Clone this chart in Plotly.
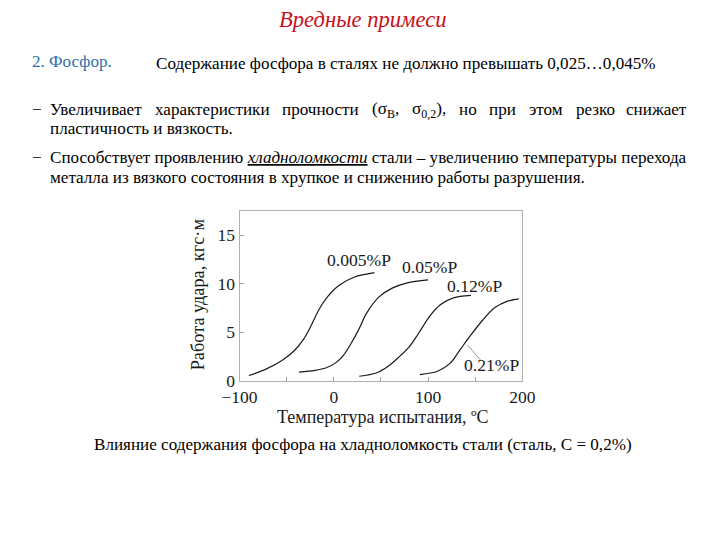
import plotly.graph_objects as go

# ---- chart data ----
t_005 = [-90, -72, -55, -42, -32, -24, -16, -8, 5, 22, 43]
a_005 = [0.55, 1.2, 2.1, 3.1, 4.3, 5.7, 7.3, 8.5, 9.8, 10.7, 11.15]

t_05 = [-37, -20, -8, 2, 10, 18, 26, 35, 48, 62, 78, 100]
a_05 = [0.9, 1.08, 1.35, 1.85, 2.6, 3.8, 5.2, 7.0, 8.65, 9.55, 10.1, 10.4]

t_12 = [27, 45, 57, 68, 80, 90, 102, 113, 127, 145.5]
a_12 = [0.47, 0.8, 1.45, 2.35, 3.5, 4.9, 6.7, 7.85, 8.55, 8.8]

t_21 = [91.4, 110.0, 123.6, 133.7, 143.9, 157.4, 170.9, 184.5, 196.2]
a_21 = [0.64, 0.98, 1.82, 3.16, 4.52, 6.19, 7.55, 8.21, 8.45]

series_labels = ["0.005%P", "0.05%P", "0.12%P", "0.21%P"]
label_x = [27.1, 102.0, 148.9, 167.5]
label_y = [12.4, 11.7, 9.73, 1.65]

leader_x = [142.1, 155.6]
leader_y = [3.67, 2.15]

x_tickvals = [-100, 0, 100, 200]
y_tickvals = [0, 5, 10, 15]

SERIF = "Liberation Serif, Times New Roman, serif"
W, H = 720, 540
BODY = 17.1

fig = go.Figure()
for xs, ys in [(t_005, a_005), (t_05, a_05), (t_12, a_12), (t_21, a_21)]:
    fig.add_trace(go.Scatter(x=xs, y=ys, mode="lines",
                             line=dict(color="#1a1a1a", width=1.2, shape="spline", smoothing=0.9),
                             showlegend=False, hoverinfo="skip"))
fig.add_trace(go.Scatter(x=leader_x, y=leader_y, mode="lines", line=dict(color="#9a9a9a", width=1),
                         showlegend=False, hoverinfo="skip"))


def py(p):
    return 1 - p / H


annotations = []
for lab, lx, ly in zip(series_labels, label_x, label_y):
    annotations.append(dict(x=lx, y=ly, xref="x", yref="y", text=lab, showarrow=False,
                            font=dict(family=SERIF, size=17.6, color="#1a1a1a")))


def txt(x, y, text, size=BODY, color="black", anchor="left"):
    annotations.append(dict(x=x / W, y=py(y), xref="paper", yref="paper", text=text, showarrow=False,
                            xanchor=anchor, yanchor="middle", borderpad=0,
                            font=dict(family=SERIF, size=size, color=color)))


txt(360, 20, "<i>Вредные примеси</i>", size=22.6, color="#c8101a", anchor="center")
txt(14, 63, "2. Фосфор.", color="#2f6fa8")
txt(143, 65, "Содержание фосфора в сталях не должно превышать 0,025…0,045%")

# first bullet line, justified word by word
txt(14, 112, "−")
line1 = [("Увеличивает", 32, "left"), ("характеристики", 203.3, "center"), ("прочности", 316.5, "center"),
         ("(σ<sub>B</sub>,", 384.0, "center"), ("σ<sub>0,2</sub>),", 429.4, "center"), ("но", 469.8, "center"),
         ("при", 506.3, "center"), ("этом", 551.3, "center"), ("резко", 603.1, "center"), ("снижает", 700, "right")]
for w, xpos, anc in line1:
    txt(xpos, 112, w, anchor=anc)
txt(32, 131, "пластичность и вязкость.")
txt(14, 160, "−")
txt(32, 160, "Способствует проявлению <i><u>хладноломкости</u></i> стали – увеличению температуры перехода")
txt(32, 181, "металла из вязкого состояния в хрупкое и снижению работы разрушения.")
txt(360, 453, "Влияние содержания фосфора на хладноломкость стали (сталь, С = 0,2%)", anchor="center")

# axis titles
txt(381, 425, "Температура испытания, ºС", size=18, color="#1a1a1a", anchor="center")
annotations.append(dict(x=189 / W, y=py(300), xref="paper", yref="paper", text="Работа удара, кгс·м",
                        showarrow=False, textangle=-90, xanchor="center", yanchor="middle",
                        font=dict(family=SERIF, size=18.3, color="#1a1a1a")))

axis_common = dict(ticks="inside", ticklen=4, tickcolor="#a0a0a0", showline=True, linecolor="#b0b0b0",
                   linewidth=1, mirror=True, showgrid=False, zeroline=False,
                   tickfont=dict(family=SERIF, size=17.5, color="#1a1a1a"))

fig.update_layout(
    width=W, height=H, margin=dict(l=0, r=0, t=0, b=0),
    paper_bgcolor="white", plot_bgcolor="white",
    annotations=annotations,
    xaxis=dict(domain=[231.5 / W, 527 / W], range=[-100, 200], tickvals=x_tickvals,
               minor=dict(tickvals=[-50, 50, 150], ticks="inside", ticklen=4, tickcolor="#a0a0a0", showgrid=False),
               **axis_common),
    yaxis=dict(domain=[py(388), py(215)], range=[0, 17.5], tickvals=y_tickvals, **axis_common),
)

fig.write_html("out.html")
